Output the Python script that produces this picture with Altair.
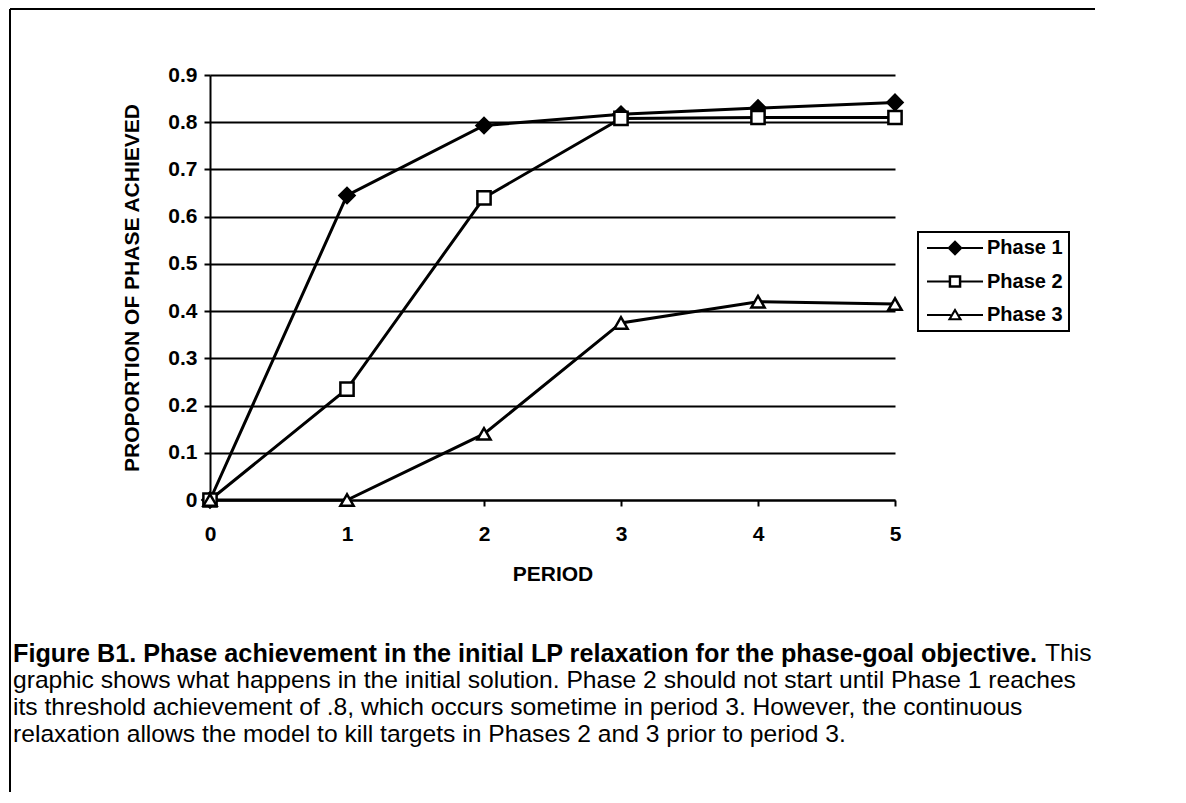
import altair as alt
import pandas as pd

# ---------------- data ----------------
periods = [0, 1, 2, 3, 4, 5]
series_names = ["Phase 1", "Phase 2", "Phase 3"]
phase1 = [0.0, 0.645, 0.793, 0.817, 0.830, 0.842]
phase2 = [0.0, 0.235, 0.640, 0.808, 0.810, 0.810]
phase3 = [0.0, 0.0, 0.140, 0.375, 0.420, 0.415]
y_ticks = [0, 0.1, 0.2, 0.3, 0.4, 0.5, 0.6, 0.7, 0.8, 0.9]
x_ticks = [0, 1, 2, 3, 4, 5]

x_title = "PERIOD"
y_title = "PROPORTION OF PHASE ACHIEVED"
caption_bold = "Figure B1. Phase achievement in the initial LP relaxation for the phase-goal objective."
caption_first_regular = "This"
caption_lines = [
    "graphic shows what happens in the initial solution. Phase 2 should not start until Phase 1 reaches",
    "its threshold achievement of .8, which occurs sometime in period 3. However, the continuous",
    "relaxation allows the model to kill targets in Phases 2 and 3 prior to period 3.",
]

rows = []
for name, vals in zip(series_names, [phase1, phase2, phase3]):
    for p, v in zip(periods, vals):
        rows.append({"period": p, "value": v, "series": name})
df = pd.DataFrame(rows)

# legend symbols: a line segment through the marker, drawn as filled outlines
seg_l = "M-4,-0.16L{a},-0.16L{a},0.16L-4,0.16Z"
seg_r = "M{b},-0.16L4,-0.16L4,0.16L{b},0.16Z"
legend_paths = [
    seg_l.format(a=-1.0) + seg_r.format(b=1.0)
    + "M-1.1,0L0,-1.1L1.1,0L0,1.1Z",
    seg_l.format(a=-0.9) + seg_r.format(b=0.9)
    + "M-0.9,-0.9L0.9,-0.9L0.9,0.9L-0.9,0.9Z"
    + "M-0.55,-0.55L-0.55,0.55L0.55,0.55L0.55,-0.55Z",
    seg_l.format(a=-0.6) + seg_r.format(b=0.6)
    + "M0,-1L1.05,0.75L-1.05,0.75Z"
    + "M0,-0.42L-0.52,0.45L0.52,0.45Z",
]

FONT = "Liberation Sans"
W, H = 685, 425
PAD_L, PAD_T = 202, 67
CAP_FS_BOLD = 25.2
CAP_FS = 24.65
AX_FS = 21

x_enc = alt.X(
    "period:Q",
    scale=alt.Scale(domain=[0, 5], nice=False, zero=False),
    axis=alt.Axis(
        values=x_ticks, format="d", title=x_title, grid=False, labelFlush=False,
        labelPadding=17, titleX=W / 2, titleY=74, titleBaseline="middle",
        titleAlign="center",
    ),
)
y_enc = alt.Y(
    "value:Q",
    scale=alt.Scale(domain=[0, 0.9], nice=False),
    axis=alt.Axis(
        values=y_ticks,
        labelExpr="datum.value == 0 ? '0' : format(datum.value, '.1f')",
        title=y_title, grid=True, labelPadding=7, labelFlush=False,
        titleX=-78, titleY=H / 2, titleAngle=270, titleAlign="center",
        titleBaseline="middle",
    ),
)

base = alt.Chart(df)

lines = base.mark_line(color="black", strokeWidth=3).encode(
    x=x_enc, y=y_enc, detail="series:N"
)

shape_cond = (
    alt.when(alt.datum.series == "Phase 1").then(alt.value("diamond"))
    .when(alt.datum.series == "Phase 2").then(alt.value("square"))
    .otherwise(alt.value("triangle-up"))
)
fill_cond = (
    alt.when(alt.datum.series == "Phase 1").then(alt.value("black"))
    .otherwise(alt.value("white"))
)
size_cond = (
    alt.when(alt.datum.series == "Phase 1").then(alt.value(225))
    .otherwise(alt.value(175))
)

points = base.mark_point(filled=True, stroke="black", strokeWidth=2.5, opacity=1).encode(
    x="period:Q", y="value:Q", shape=shape_cond, fill=fill_cond, size=size_cond
)

leg = alt.Legend(
    title=None, orient="none", legendX=708, legendY=157,
    strokeColor="black", padding=6,
    labelFont=FONT, labelFontSize=20, labelFontWeight="bold", labelColor="black",
    symbolSize=196, symbolFillColor="black", symbolStrokeWidth=0,
    symbolOffset=21, labelOffset=22, rowPadding=13.5, symbolOpacity=1,
)
legend_layer = base.mark_point(filled=True, color="black", opacity=0, strokeWidth=0).encode(
    x="period:Q", y="value:Q",
    shape=alt.Shape("series:N", scale=alt.Scale(domain=series_names, range=legend_paths), legend=leg),
)

# caption (annotation text below the chart)
cap_x = 13 - 210
bold_em = 40.68
this_x = cap_x + bold_em * CAP_FS_BOLD + 0.278 * CAP_FS
line_y0 = 654 - 75
line_dy = 27

cap_bold = alt.Chart(pd.DataFrame({"t": [caption_bold]})).mark_text(
    align="left", baseline="middle", font=FONT, fontSize=CAP_FS_BOLD, fontWeight="bold", color="black"
).encode(x=alt.value(cap_x), y=alt.value(line_y0), text="t:N")
cap_this = alt.Chart(pd.DataFrame({"t": [caption_first_regular]})).mark_text(
    align="left", baseline="middle", font=FONT, fontSize=CAP_FS, color="black"
).encode(x=alt.value(this_x), y=alt.value(line_y0), text="t:N")
cap_rest = [
    alt.Chart(pd.DataFrame({"t": [txt]})).mark_text(
        align="left", baseline="middle", font=FONT, fontSize=CAP_FS, color="black"
    ).encode(x=alt.value(cap_x), y=alt.value(line_y0 + (i + 1) * line_dy), text="t:N")
    for i, txt in enumerate(caption_lines)
]

# figure frame (top and left border)
frame_top = alt.Chart(pd.DataFrame({"a": [0]})).mark_rule(color="black", strokeWidth=2).encode(
    x=alt.value(-200), x2=alt.value(885), y=alt.value(-66)
)
frame_left = alt.Chart(pd.DataFrame({"a": [0]})).mark_rule(color="black", strokeWidth=2).encode(
    x=alt.value(-200), y=alt.value(-66), y2=alt.value(740)
)

chart = alt.layer(
    lines, points, legend_layer, cap_bold, cap_this, *cap_rest, frame_top, frame_left
).properties(
    width=W, height=H,
    padding={"left": PAD_L, "top": PAD_T, "right": 280, "bottom": 292},
    autosize=alt.AutoSizeParams(type="none"),
    background="white",
).configure_view(
    stroke="transparent"
).configure_axis(
    labelFont=FONT, labelFontSize=AX_FS, labelFontWeight="bold", labelColor="black",
    titleFont=FONT, titleFontSize=AX_FS, titleFontWeight="bold", titleColor="black",
    domainColor="black", domainWidth=2, tickColor="black", tickWidth=2, tickSize=6,
    gridColor="black", gridWidth=2, gridOpacity=1,
).configure_legend(
    strokeWidth=2
)

chart.save("out.html", embed_options={"renderer": "svg", "actions": False})
